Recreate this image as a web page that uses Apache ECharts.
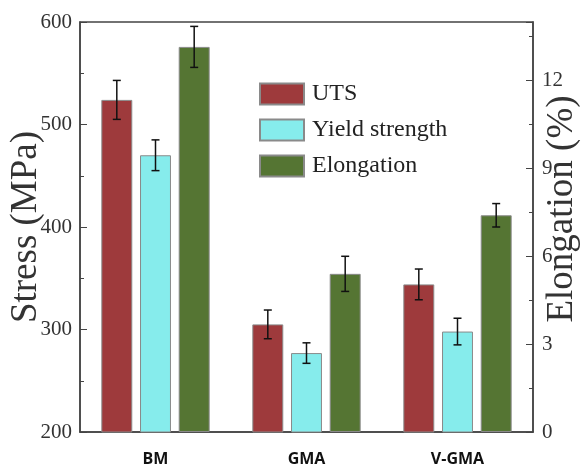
<!DOCTYPE html>
<html>
<head>
<meta charset="utf-8">
<script src="https://cdn.jsdelivr.net/npm/echarts@6/dist/echarts.min.js"></script>
<style>html,body{margin:0;padding:0;background:#fff}#c{width:585px;height:466px}</style>
</head>
<body>
<div id="c"></div>
<script>
const categories = ['BM', 'GMA', 'V-GMA'];
const utsValues = [524, 305, 344];
const utsErrors = [19, 14, 15];
const yieldValues = [470, 277, 298];
const yieldErrors = [15, 10, 13];
const elongValues = [13.15, 5.4, 7.4];
const elongErrors = [0.7, 0.6, 0.4];
const stressTicks = [200, 300, 400, 500, 600];
const elongTicks = [0, 3, 6, 9, 12];

const BAR_W = 0.205, BAR_GAP = 0.25;
const serif = 'Liberation Serif';

function errSeries(vals, errs, pos, yIdx) {
  return {
    type: 'custom',
    yAxisIndex: yIdx,
    z: 10,
    silent: true,
    data: vals.map((v, i) => [i, v, errs[i]]),
    renderItem: function (params, api) {
      const idx = api.value(0), v = api.value(1), e = api.value(2);
      const band = api.size([1, 0])[0];
      const off = pos * band * BAR_W * (1 + BAR_GAP);
      const t = api.coord([idx, v + e]);
      const b = api.coord([idx, v - e]);
      const x = t[0] + off;
      const cap = 4;
      const st = { stroke: '#111', lineWidth: 1.5 };
      return {
        type: 'group',
        children: [
          { type: 'line', shape: { x1: x, y1: t[1], x2: x, y2: b[1] }, style: st },
          { type: 'line', shape: { x1: x - cap, y1: t[1], x2: x + cap, y2: t[1] }, style: st },
          { type: 'line', shape: { x1: x - cap, y1: b[1], x2: x + cap, y2: b[1] }, style: st }
        ]
      };
    }
  };
}

const chart = echarts.init(document.getElementById('c'));
chart.setOption({
  animation: false,
  backgroundColor: '#fff',
  grid: { left: 80, right: 52, top: 22, bottom: 34, outerBoundsMode: 'none', containLabel: false,
    show: true, borderColor: '#444', borderWidth: 1.5, backgroundColor: 'transparent' },
  legend: {
    data: ['UTS', 'Yield strength', 'Elongation'],
    orient: 'vertical',
    left: 254, top: 77,
    itemWidth: 44, itemHeight: 21, itemGap: 12,
    icon: 'rect',
    textStyle: { fontFamily: serif, fontSize: 24, color: '#222', padding: [0, 0, 0, 3] }
  },
  xAxis: {
    type: 'category',
    data: categories,
    axisLine: { lineStyle: { color: '#444', width: 1.5 } },
    axisTick: { show: false },
    axisLabel: { fontFamily: 'Open Sans', fontWeight: 'bold', fontSize: 16, color: '#111', margin: 19 }
  },
  yAxis: [
    {
      type: 'value', min: 200, max: 600, interval: 100,
      name: 'Stress (MPa)', nameLocation: 'middle', nameRotate: 90, nameGap: 35, nameMoveOverlap: false,
      nameTextStyle: { fontFamily: serif, fontSize: 37, color: '#333' },
      axisLine: { show: true, lineStyle: { color: '#444', width: 1.5 } },
      axisTick: { show: true, inside: true, length: 7, lineStyle: { color: '#444' } },
      minorTick: { show: true, splitNumber: 2, length: 4, lineStyle: { color: '#444' } },
      splitLine: { show: false },
      axisLabel: { fontFamily: serif, fontSize: 21, color: '#333', margin: 8 }
    },
    {
      type: 'value', min: 0, max: 14, interval: 3,
      name: 'Elongation (%)', nameLocation: 'middle', nameRotate: 90, nameGap: 11, nameMoveOverlap: false,
      nameTextStyle: { fontFamily: serif, fontSize: 37, color: '#333', padding: [0, 0, 0, 36] },
      axisLine: { show: true, lineStyle: { color: '#444', width: 1.5 } },
      axisTick: { show: true, inside: true, length: 7, lineStyle: { color: '#444' } },
      minorTick: { show: true, splitNumber: 2, length: 4, lineStyle: { color: '#444' } },
      splitLine: { show: false },
      axisLabel: { fontFamily: serif, fontSize: 21, color: '#333', margin: 9, showMaxLabel: false }
    }
  ],
  series: [
    { name: 'UTS', type: 'bar', data: utsValues, barWidth: (BAR_W * 100) + '%', barGap: (BAR_GAP * 100) + '%',
      itemStyle: { color: '#9e3a3c', borderColor: '#8a8a8a', borderWidth: 1 } },
    { name: 'Yield strength', type: 'bar', data: yieldValues, barWidth: (BAR_W * 100) + '%', barGap: (BAR_GAP * 100) + '%',
      itemStyle: { color: '#86ecec', borderColor: '#8a8a8a', borderWidth: 1 } },
    { name: 'Elongation', type: 'bar', yAxisIndex: 1, data: elongValues, barWidth: (BAR_W * 100) + '%', barGap: (BAR_GAP * 100) + '%',
      itemStyle: { color: '#557533', borderColor: '#8a8a8a', borderWidth: 1 } },
    errSeries(utsValues, utsErrors, -1, 0),
    errSeries(yieldValues, yieldErrors, 0, 0),
    errSeries(elongValues, elongErrors, 1, 1)
  ]
});
</script>
</body>
</html>
